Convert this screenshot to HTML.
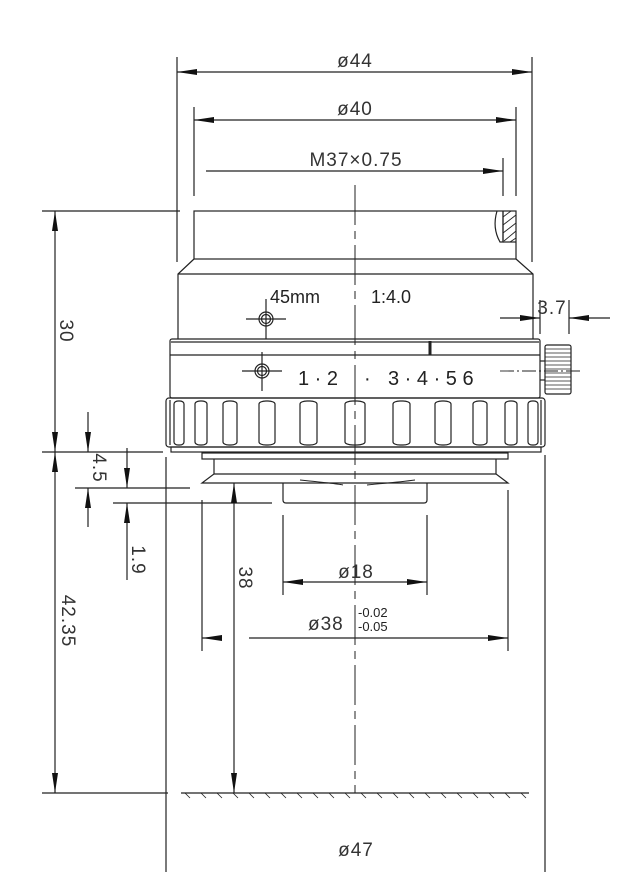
<!DOCTYPE html>
<html><head><meta charset="utf-8"><style>
html,body{margin:0;padding:0;background:#fff;}
svg{display:block;}
text{font-family:"Liberation Sans",sans-serif;fill:#222;}
.d{font-size:19px;letter-spacing:1px;fill:#333;}
</style></head><body>
<svg width="635" height="895" viewBox="0 0 635 895" xmlns="http://www.w3.org/2000/svg">
<g stroke="#222" stroke-width="1.2" fill="none">
<rect x="194" y="211" width="322" height="48"/>
<polyline points="194,259 178,274 178,339"/>
<polyline points="516,259 533,274 533,339"/>
<line x1="178" y1="274" x2="533" y2="274"/>
<path d="M497,211 Q492,228 500,242 L503,242 L503,211"/>
<line x1="503" y1="211" x2="503" y2="242"/>
<line x1="503" y1="242" x2="516" y2="242"/>
<g stroke-width="0.9">
<line x1="503" y1="217" x2="511" y2="211"/>
<line x1="503" y1="225" x2="516" y2="215"/>
<line x1="503" y1="233" x2="516" y2="223"/>
<line x1="504" y1="241" x2="516" y2="231"/>
<line x1="510" y1="242" x2="516" y2="238"/>
</g>
<rect x="170" y="339" width="370" height="59" rx="2"/>
<line x1="170" y1="342" x2="540" y2="342" stroke="#777" stroke-width="2"/>
<line x1="170" y1="355" x2="540" y2="355"/>
<line x1="430" y1="341" x2="430" y2="355" stroke-width="3"/>
<rect x="545" y="345" width="26" height="49" rx="2"/>
<g stroke-width="0.8">
<line x1="545" y1="349" x2="571" y2="349"/><line x1="545" y1="353" x2="571" y2="353"/>
<line x1="545" y1="357" x2="571" y2="357"/><line x1="545" y1="361" x2="571" y2="361"/>
<line x1="545" y1="365" x2="571" y2="365"/><line x1="545" y1="369" x2="571" y2="369"/>
<line x1="545" y1="373" x2="571" y2="373"/><line x1="545" y1="377" x2="571" y2="377"/>
<line x1="545" y1="381" x2="571" y2="381"/><line x1="545" y1="385" x2="571" y2="385"/>
<line x1="545" y1="389" x2="571" y2="389"/>
</g>
<line x1="540" y1="361" x2="545" y2="361"/><line x1="540" y1="380" x2="545" y2="380"/>
<line x1="500" y1="371" x2="583" y2="371" stroke-dasharray="14,3,2,3" stroke-width="0.9"/>
<rect x="166" y="398" width="379" height="49" rx="3"/>
<line x1="170" y1="400" x2="170" y2="445"/>
<line x1="541" y1="400" x2="541" y2="445"/>
<g>
<rect x="174" y="401" width="10" height="44" rx="4" ry="3"/>
<rect x="195" y="401" width="12" height="44" rx="5" ry="3"/>
<rect x="223" y="401" width="14" height="44" rx="6" ry="3"/>
<rect x="259" y="401" width="16" height="44" rx="7" ry="3"/>
<rect x="300" y="401" width="17" height="44" rx="7" ry="3"/>
<rect x="345" y="401" width="20" height="44" rx="8" ry="3"/>
<rect x="393" y="401" width="17" height="44" rx="7" ry="3"/>
<rect x="435" y="401" width="16" height="44" rx="7" ry="3"/>
<rect x="473" y="401" width="14" height="44" rx="6" ry="3"/>
<rect x="505" y="401" width="12" height="44" rx="5" ry="3"/>
<rect x="528" y="401" width="10" height="44" rx="4" ry="3"/>
</g>
<rect x="171" y="447" width="370" height="5"/>
<rect x="202" y="453" width="306" height="6"/>
<polyline points="214,459 214,474 202,483 508,483 496,474 496,459"/>
<line x1="214" y1="474" x2="496" y2="474"/>
<path d="M283,483 L283,500 Q283,503 286,503 L424,503 Q427,503 427,500 L427,483"/>
<path d="M300,480 Q340,484 343,485" stroke-width="0.9"/>
<path d="M367,485 Q400,482 415,480" stroke-width="0.9"/>
<circle cx="266" cy="319" r="7"/><circle cx="266" cy="319" r="4.5"/>
<line x1="246" y1="319" x2="286" y2="319"/><line x1="266" y1="299" x2="266" y2="339"/>
<circle cx="262" cy="371" r="7"/><circle cx="262" cy="371" r="4.5"/>
<line x1="242" y1="371" x2="282" y2="371"/><line x1="262" y1="352" x2="262" y2="391"/>
<line x1="355" y1="185" x2="355" y2="793" stroke-dasharray="40,6,8,6" stroke-width="1"/>
<line x1="177" y1="57" x2="177" y2="262"/>
<line x1="532" y1="57" x2="532" y2="262"/>
<line x1="194" y1="107" x2="194" y2="196"/>
<line x1="516" y1="107" x2="516" y2="196"/>
<line x1="503" y1="158" x2="503" y2="196"/>
<line x1="540" y1="300" x2="540" y2="334"/>
<line x1="569" y1="300" x2="569" y2="334"/>
<line x1="42" y1="211" x2="180" y2="211"/>
<line x1="42" y1="452" x2="163" y2="452"/>
<line x1="75" y1="488" x2="190" y2="488"/>
<line x1="113" y1="503" x2="272" y2="503"/>
<line x1="42" y1="793" x2="168" y2="793"/>
<line x1="166" y1="457" x2="166" y2="872"/>
<line x1="545" y1="455" x2="545" y2="872"/>
<line x1="202" y1="500" x2="202" y2="651"/>
<line x1="508" y1="490" x2="508" y2="651"/>
<line x1="283" y1="515" x2="283" y2="595"/>
<line x1="427" y1="515" x2="427" y2="595"/>
<line x1="177" y1="72" x2="532" y2="72"/>
<line x1="194" y1="120" x2="516" y2="120"/>
<line x1="206" y1="171" x2="503" y2="171"/>
<line x1="500" y1="318" x2="540" y2="318"/>
<line x1="569" y1="318" x2="610" y2="318"/>
<line x1="283" y1="582" x2="427" y2="582"/>
<line x1="202" y1="638" x2="222" y2="638"/>
<line x1="249" y1="638" x2="508" y2="638"/>
<line x1="55" y1="211" x2="55" y2="793"/>
<line x1="88" y1="412" x2="88" y2="452"/>
<line x1="88" y1="488" x2="88" y2="527"/>
<line x1="127" y1="448" x2="127" y2="488"/>
<line x1="127" y1="503" x2="127" y2="580"/>
<line x1="234" y1="483" x2="234" y2="793"/>
<line x1="181" y1="793" x2="529" y2="793"/>
<g stroke-width="0.8">
<path d="M185,793 l5,5 M201,793 l5,5 M217,793 l5,5 M233,793 l5,5 M249,793 l5,5 M265,793 l5,5 M281,793 l5,5 M297,793 l5,5 M313,793 l5,5 M329,793 l5,5 M345,793 l5,5 M361,793 l5,5 M377,793 l5,5 M393,793 l5,5 M409,793 l5,5 M425,793 l5,5 M441,793 l5,5 M457,793 l5,5 M473,793 l5,5 M489,793 l5,5 M505,793 l5,5 M521,793 l5,5"/>
</g>
</g>
<g fill="#111">
<polygon points="177,72 197,69 197,75"/><polygon points="532,72 512,69 512,75"/>
<polygon points="194,120 214,117 214,123"/><polygon points="516,120 496,117 496,123"/>
<polygon points="503,171 483,168 483,174"/>
<polygon points="540,318 520,315 520,321"/><polygon points="569,318 589,315 589,321"/>
<polygon points="283,582 303,579 303,585"/><polygon points="427,582 407,579 407,585"/>
<polygon points="202,638 222,635 222,641"/><polygon points="508,638 488,635 488,641"/>
<polygon points="55,211 52,231 58,231"/><polygon points="55,452 52,432 58,432"/>
<polygon points="55,452 52,472 58,472"/><polygon points="55,793 52,773 58,773"/>
<polygon points="88,452 85,432 91,432"/><polygon points="88,488 85,508 91,508"/>
<polygon points="127,488 124,468 130,468"/><polygon points="127,503 124,523 130,523"/>
<polygon points="234,483 231,503 237,503"/><polygon points="234,793 231,773 237,773"/>
</g>
<text class="d" x="355" y="67" text-anchor="middle">ø44</text>
<text class="d" x="355" y="115" text-anchor="middle">ø40</text>
<text class="d" x="356" y="166" text-anchor="middle">M37×0.75</text>
<text class="d" x="552" y="314" text-anchor="middle">3.7</text>
<text class="d" x="356" y="578" text-anchor="middle">ø18</text>
<text class="d" x="308" y="630">ø38</text>
<text x="358" y="617" font-size="13" fill="#333">-0.02</text>
<text x="358" y="631" font-size="13" fill="#333">-0.05</text>
<text class="d" x="356" y="856" text-anchor="middle">ø47</text>
<text class="d" transform="translate(60,331) rotate(90)" text-anchor="middle">30</text>
<text class="d" transform="translate(62,621) rotate(90)" text-anchor="middle">42.35</text>
<text class="d" transform="translate(93,468) rotate(90)" text-anchor="middle">4.5</text>
<text class="d" transform="translate(132,560) rotate(90)" text-anchor="middle">1.9</text>
<text class="d" transform="translate(239,578) rotate(90)" text-anchor="middle">38</text>
<text x="270" y="303" font-size="18">45mm</text>
<text x="371" y="303" font-size="18">1:4.0</text>
<text x="298" y="385" font-size="20">1 · 2</text>
<text x="364" y="385" font-size="20">·</text>
<text x="388" y="385" font-size="20">3 · 4 · 5 6</text>
</svg>
</body></html>
